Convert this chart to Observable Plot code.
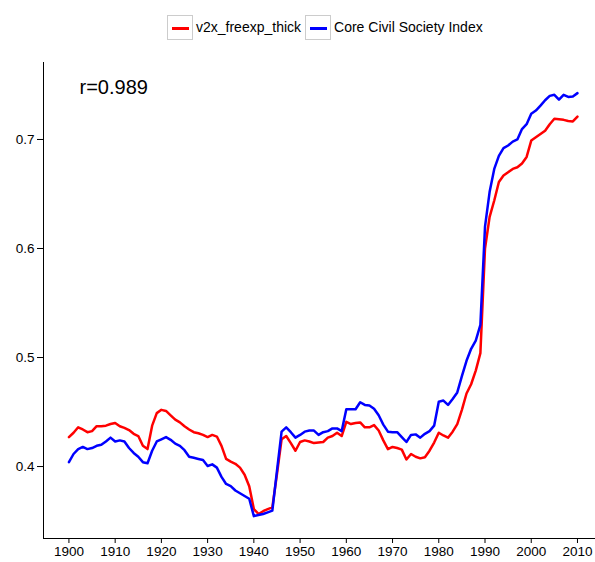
<!DOCTYPE html>
<html>
<head>
<meta charset="utf-8">
<script src="https://cdn.jsdelivr.net/npm/d3@7"></script>
<script src="https://cdn.jsdelivr.net/npm/@observablehq/plot@0.6"></script>
<style>
  body { margin: 0; background: #fff; font-family: "Liberation Sans", Arial, sans-serif; }
  #legend { height: 50px; box-sizing: border-box; padding-left: 167px; padding-top: 15px; display: flex; align-items: flex-start; font-size: 14px; color: #000; }
  .item { display: flex; align-items: center; margin-right: 4px; }
  .sw { width: 24px; height: 23px; border: 1px solid #ccc; position: relative; margin-right: 3px; }
  .sw span { position: absolute; left: 4px; right: 3px; top: 11px; height: 2.5px; }
  .lab { line-height: 25px; }
</style>
</head>
<body>
<div id="legend"></div>
<div id="chart"></div>
<script>
const years = d3.range(1900, 2011);
const seriesNames = ["v2x_freexp_thick", "Core Civil Society Index"];
const seriesColors = ["#ff0000", "#0000ff"];
const freexp = [
  0.427, 0.431, 0.436, 0.434, 0.4315, 0.4325, 0.437, 0.437, 0.4375, 0.439,
  0.440, 0.437, 0.4355, 0.4335, 0.430, 0.428, 0.419, 0.416, 0.4375, 0.449,
  0.452, 0.451, 0.447, 0.443, 0.4405, 0.437, 0.434, 0.4315, 0.4305, 0.429,
  0.427, 0.429, 0.4275, 0.419, 0.407, 0.4045, 0.4025, 0.399, 0.3925, 0.382,
  0.361, 0.3565, 0.359, 0.361, 0.3625, 0.393, 0.425, 0.428, 0.4215, 0.4145,
  0.4225, 0.424, 0.423, 0.4215, 0.422, 0.4225, 0.4265, 0.428, 0.431, 0.428,
  0.441, 0.439, 0.440, 0.4405, 0.436, 0.436, 0.438, 0.433, 0.424, 0.416,
  0.418, 0.417, 0.4155, 0.4065, 0.4115, 0.409, 0.4075, 0.4085, 0.4145, 0.422,
  0.431, 0.4285, 0.4265, 0.432, 0.439, 0.452, 0.467, 0.4755, 0.488, 0.504,
  0.600, 0.629, 0.644, 0.661, 0.667, 0.670, 0.673, 0.6745, 0.678, 0.684,
  0.699, 0.702, 0.705, 0.708, 0.714, 0.719, 0.7185, 0.718, 0.717, 0.7165,
  0.721
];
const civil = [
  0.404, 0.4115, 0.416, 0.418, 0.416, 0.417, 0.419, 0.420, 0.423, 0.4265,
  0.423, 0.424, 0.423, 0.417, 0.4125, 0.409, 0.404, 0.403, 0.4145, 0.423,
  0.425, 0.427, 0.4245, 0.421, 0.419, 0.415, 0.409, 0.408, 0.407, 0.406,
  0.4005, 0.402, 0.399, 0.3905, 0.384, 0.382, 0.378, 0.3755, 0.373, 0.3705,
  0.3545, 0.3555, 0.3565, 0.358, 0.3596, 0.396, 0.432, 0.436, 0.4315, 0.4265,
  0.429, 0.432, 0.433, 0.433, 0.429, 0.4315, 0.4325, 0.435, 0.435, 0.4325,
  0.4525, 0.4525, 0.4525, 0.459, 0.4565, 0.456, 0.453, 0.447, 0.4385, 0.432,
  0.4315, 0.4315, 0.427, 0.4225, 0.429, 0.4295, 0.4265, 0.430, 0.4325, 0.4375,
  0.4595, 0.4605, 0.4565, 0.462, 0.468, 0.483, 0.497, 0.508, 0.5155, 0.530,
  0.620, 0.652, 0.673, 0.685, 0.692, 0.6945, 0.698, 0.700, 0.7095, 0.714,
  0.7235, 0.7265, 0.731, 0.736, 0.740, 0.741, 0.7365, 0.741, 0.739, 0.7395,
  0.7425
];
const xTicks = d3.range(1900, 2011, 10);
const yTicks = [0.4, 0.5, 0.6, 0.7];
const annotation = "r=0.989";
const xDomain = [1894.5, 2013.9];
const yDomain = [0.334, 0.7706];

// legend
const legend = document.getElementById("legend");
seriesNames.forEach((name, i) => {
  const it = document.createElement("div");
  it.className = "item";
  it.innerHTML = `<div class="sw"><span style="background:${seriesColors[i]}"></span></div><div class="lab">${name}</div>`;
  legend.appendChild(it);
});

const table = [];
years.forEach((y, i) => {
  table.push({year: y, value: freexp[i], series: seriesNames[0]});
});
years.forEach((y, i) => {
  table.push({year: y, value: civil[i], series: seriesNames[1]});
});

const chart = Plot.plot({
  width: 595,
  height: 512,
  marginLeft: 43,
  marginRight: 0,
  marginTop: 12,
  marginBottom: 24,
  style: { fontFamily: "'Liberation Sans', Arial, sans-serif", fontSize: "13.5px", color: "#000", background: "#fff" },
  x: { domain: xDomain, ticks: xTicks, tickFormat: d => String(d), label: null },
  y: { domain: yDomain, ticks: yTicks, tickFormat: d => String(d), label: null },
  color: { domain: seriesNames, range: seriesColors },
  marks: [
    Plot.axisX({ ticks: xTicks, tickSize: 5, tickPadding: 3, tickFormat: d => String(d), label: null, fontSize: 13.5 }),
    Plot.axisY({ ticks: yTicks, tickSize: 6, tickPadding: 3, tickFormat: d => String(d), label: null, fontSize: 13.5 }),
    Plot.ruleX([xDomain[0]], { stroke: "#000", strokeWidth: 1 }),
    Plot.ruleY([yDomain[0]], { stroke: "#000", strokeWidth: 1 }),
    Plot.line(table, { x: "year", y: "value", stroke: "series", z: "series", strokeWidth: 2.5, strokeLinejoin: "round" }),
    Plot.text([annotation], { text: d => d, frameAnchor: "top-left", dx: 36, dy: 17, fontSize: 20, textAnchor: "start", lineAnchor: "top", fill: "#000" })
  ]
});
document.getElementById("chart").appendChild(chart);
</script>
</body>
</html>
